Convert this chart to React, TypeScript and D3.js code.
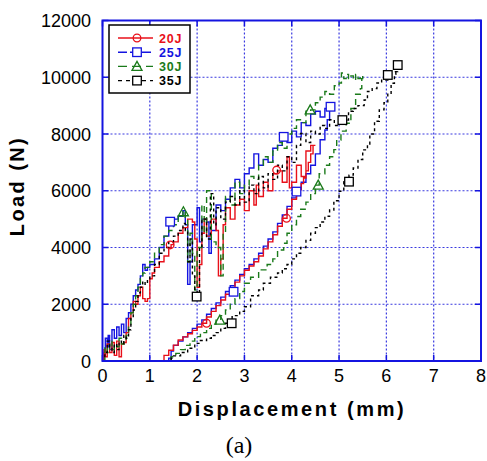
import React from "react";
import * as d3 from "d3";

type P = [number, number];

const xTicks = [0, 1, 2, 3, 4, 5, 6, 7, 8];
const yTicks = [0, 2000, 4000, 6000, 8000, 10000, 12000];
const seriesNames = ["20J", "25J", "30J", "35J"];

const red: P[] = [
  [0, 0], [0.03, 400], [0.06, 150], [0.1, 600], [0.15, 300], [0.2, 650], [0.25, 200], [0.3, 700], [0.35, 150],
  [0.4, 600], [0.45, 650], [0.5, 1000], [0.55, 1500], [0.6, 1700], [0.65, 2100], [0.7, 2000], [0.75, 2300],
  [0.8, 2600], [0.85, 2200], [0.9, 2100], [0.95, 2200], [1.0, 2900], [1.05, 3100], [1.1, 3300], [1.2, 3500],
  [1.3, 3700], [1.4, 4000], [1.45, 4100], [1.5, 4200], [1.6, 4500], [1.7, 4700], [1.8, 5000], [1.9, 4900],
  [1.95, 4300], [2.0, 2600], [2.05, 3400], [2.1, 4500], [2.15, 5000], [2.2, 4400], [2.3, 5000], [2.4, 4600],
  [2.45, 3000], [2.5, 3600], [2.55, 4800], [2.6, 5400], [2.7, 5000], [2.8, 5500], [2.9, 5700], [3.0, 5300],
  [3.1, 6000], [3.2, 5500], [3.25, 6200], [3.3, 5800], [3.4, 6300], [3.5, 6000], [3.6, 6600], [3.7, 6700],
  [3.8, 6300], [3.9, 7200], [3.95, 6100], [4.0, 6300], [4.1, 6900], [4.2, 6500], [4.3, 7400], [4.4, 7600],
  [4.5, 7600],
  [4.45, 7300], [4.4, 7000], [4.35, 6700], [4.3, 6450], [4.25, 6250], [4.2, 6030], [4.1, 5700], [4.0, 5350],
  [3.9, 5030], [3.8, 4750], [3.7, 4450], [3.6, 4200], [3.5, 3950], [3.4, 3700], [3.3, 3500], [3.2, 3350],
  [3.1, 3200], [3.0, 3000], [2.9, 2780], [2.8, 2550], [2.7, 2350], [2.6, 2150], [2.5, 1950], [2.4, 1750],
  [2.3, 1550], [2.2, 1330], [2.1, 1200], [2.0, 1080], [1.9, 960], [1.8, 850], [1.7, 740], [1.6, 560],
  [1.5, 380], [1.4, 200], [1.3, 0], [1.22, 0],
];

const blue: P[] = [
  [0, 0], [0.03, 300], [0.06, 800], [0.1, 500], [0.12, 900], [0.15, 400], [0.2, 1100], [0.25, 800], [0.3, 1200],
  [0.35, 900], [0.4, 1300], [0.45, 1000], [0.5, 1500], [0.55, 1700], [0.6, 2000], [0.65, 2300], [0.7, 2500],
  [0.75, 2700], [0.8, 3000], [0.85, 3400], [0.9, 3200], [0.95, 3300], [1.0, 3400], [1.1, 3600], [1.2, 4000],
  [1.3, 4400], [1.4, 4900], [1.5, 5000], [1.6, 5100], [1.7, 5300], [1.75, 4800], [1.8, 2700], [1.85, 3500],
  [1.9, 4800], [2.0, 5400], [2.05, 4200], [2.1, 5000], [2.2, 4900], [2.25, 3800], [2.3, 4600], [2.4, 5500],
  [2.5, 5300], [2.6, 5700], [2.7, 6100], [2.8, 6400], [2.9, 6100], [3.0, 6600], [3.1, 6800], [3.2, 7300],
  [3.3, 6900], [3.4, 7100], [3.5, 7000], [3.6, 7500], [3.7, 7600], [3.8, 7900], [3.9, 7700], [4.0, 8100],
  [4.1, 7900], [4.2, 8400], [4.3, 8300], [4.4, 8700], [4.5, 8800], [4.6, 8600], [4.7, 8900], [4.8, 9000],
  [4.85, 9000],
  [4.8, 8500], [4.75, 8140], [4.7, 7800], [4.6, 7300], [4.5, 6900], [4.4, 6600], [4.3, 6300], [4.2, 6050],
  [4.1, 5750], [4.0, 5450], [3.9, 5150], [3.8, 4850], [3.7, 4550], [3.6, 4300], [3.5, 4050], [3.4, 3800],
  [3.3, 3600], [3.2, 3400], [3.1, 3250], [3.0, 3050], [2.9, 2850], [2.8, 2650], [2.7, 2450], [2.6, 2250],
  [2.5, 2050], [2.4, 1850], [2.3, 1650], [2.2, 1450], [2.1, 1300], [2.0, 1150], [1.9, 1000], [1.8, 850],
  [1.7, 700], [1.6, 550], [1.5, 350], [1.45, 100], [1.4, 0],
];

const green: P[] = [
  [0, 0], [0.05, 500], [0.1, 300], [0.15, 700], [0.2, 400], [0.25, 600], [0.3, 500], [0.35, 800], [0.4, 600],
  [0.45, 700], [0.5, 900], [0.55, 1300], [0.6, 1700], [0.65, 2000], [0.7, 2300], [0.75, 2600], [0.8, 2900],
  [0.85, 3100], [0.9, 3300], [1.0, 3500], [1.1, 3800], [1.2, 4100], [1.3, 4400], [1.4, 4600], [1.5, 4800],
  [1.6, 5100], [1.7, 5300], [1.75, 5000], [1.8, 3500], [1.85, 4500], [1.9, 3800], [1.95, 2500], [2.0, 4000],
  [2.1, 5500], [2.15, 4500], [2.2, 6000], [2.3, 4200], [2.4, 4000], [2.5, 3000], [2.55, 4500], [2.6, 5800],
  [2.7, 5500], [2.8, 6300], [2.9, 5900], [3.0, 6200], [3.1, 6500], [3.2, 6400], [3.3, 6900], [3.4, 7200],
  [3.5, 7000], [3.6, 7400], [3.7, 7700], [3.8, 7500], [3.9, 8000], [4.0, 8200], [4.1, 8500], [4.2, 8400],
  [4.3, 8800], [4.4, 8850], [4.5, 9100], [4.6, 9300], [4.7, 9500], [4.8, 9400], [4.9, 9700], [5.0, 9800],
  [5.05, 10150], [5.1, 9950], [5.15, 10100], [5.2, 9950], [5.25, 10050], [5.3, 9900], [5.35, 10100],
  [5.4, 9950], [5.45, 10050], [5.5, 9950],
  [5.48, 9600], [5.45, 9400], [5.35, 8900], [5.25, 8380], [5.15, 8100], [5.04, 7790], [4.95, 7450],
  [4.89, 7200], [4.8, 6900], [4.7, 6600], [4.58, 6200], [4.5, 5900], [4.4, 5600], [4.3, 5350], [4.19, 5090],
  [4.1, 4800], [4.0, 4500], [3.9, 4150], [3.83, 3910], [3.7, 3600], [3.6, 3400], [3.48, 3210], [3.3, 2950],
  [3.13, 2740], [3.0, 2450], [2.9, 2200], [2.8, 2000], [2.7, 1800], [2.6, 1600], [2.5, 1440], [2.4, 1300],
  [2.3, 1150], [2.2, 1000], [2.07, 860], [1.95, 700], [1.85, 550], [1.75, 400], [1.65, 270], [1.55, 150],
  [1.45, 0],
];

const black: P[] = [
  [0, 0], [0.05, 300], [0.1, 700], [0.15, 500], [0.2, 300], [0.25, 600], [0.3, 400], [0.35, 700], [0.4, 600],
  [0.45, 900], [0.5, 800], [0.55, 1100], [0.6, 1500], [0.65, 1800], [0.7, 2100], [0.75, 2400], [0.8, 2600],
  [0.85, 2800], [0.9, 2700], [0.95, 2900], [1.0, 3000], [1.1, 3400], [1.2, 3800], [1.3, 4000], [1.4, 4200],
  [1.5, 4400], [1.6, 4600], [1.7, 4850], [1.75, 4600], [1.8, 3500], [1.85, 4300], [1.9, 3000], [1.95, 2500],
  [2.0, 2270], [2.05, 4000], [2.1, 5000], [2.2, 4300], [2.28, 5900], [2.35, 4800], [2.4, 5400], [2.5, 5000],
  [2.6, 5600], [2.7, 5800], [2.8, 5500], [2.9, 6000], [3.0, 5600], [3.1, 6200], [3.2, 5900], [3.3, 6500],
  [3.4, 6100], [3.5, 6600], [3.6, 6400], [3.7, 6900], [3.8, 6700], [3.9, 7200], [4.0, 7000], [4.1, 7600],
  [4.19, 8020], [4.3, 7700], [4.4, 8100], [4.5, 8000], [4.6, 8300], [4.7, 8200], [4.8, 8500], [4.9, 8300],
  [5.0, 8600], [5.07, 8490], [5.2, 8800], [5.3, 8900], [5.4, 9000], [5.53, 9200], [5.6, 9500], [5.7, 9600],
  [5.8, 9800], [5.9, 9900], [6.03, 10080], [6.1, 10200], [6.24, 10430],
  [6.2, 10100], [6.17, 9790], [6.1, 9400], [6.03, 9100], [5.95, 8850], [5.85, 8450], [5.75, 8000],
  [5.65, 7650], [5.6, 7440], [5.5, 7100], [5.4, 6800], [5.3, 6550], [5.21, 6320], [5.1, 5980], [5.0, 5650],
  [4.89, 5320], [4.8, 5100], [4.7, 4900], [4.6, 4700], [4.5, 4500], [4.4, 4250], [4.3, 4000], [4.19, 3800],
  [4.1, 3600], [4.0, 3400], [3.9, 3250], [3.8, 3100], [3.7, 2950], [3.55, 2740], [3.4, 2500], [3.3, 2300],
  [3.13, 1910], [3.0, 1750], [2.9, 1600], [2.74, 1330], [2.6, 1150], [2.5, 1000], [2.4, 900], [2.3, 800],
  [2.2, 720], [2.07, 620], [1.95, 450], [1.8, 300], [1.65, 180], [1.5, 95], [1.45, 0],
];

const redMarks: P[] = [[1.43, 4090], [3.68, 6730], [3.89, 5030], [2.2, 1330]];
const blueMarks: P[] = [[1.43, 4910], [3.83, 7900], [4.82, 8960], [4.1, 5970], [2.77, 2440]];
const greenMarks: P[] = [[1.71, 5260], [4.39, 8850], [4.56, 6200], [2.48, 1440]];
const blackMarks: P[] = [[1.99, 2270], [5.07, 8490], [6.03, 10080], [6.24, 10430], [5.21, 6320], [2.73, 1330]];

const W = 487, H = 461;
const L = 102.5, R = 481, T = 20.5, B = 361;

const x = d3.scaleLinear().domain([0, 8]).range([L, R]);
const y = d3.scaleLinear().domain([0, 12000]).range([B, T]);

const RED = "#e8101a", BLUE = "#1414e0", GREEN = "#1a7a1a", BLACK = "#000";
const GRID = "#3a3ae0";

const line = d3.line<P>().x(d => x(d[0])).y(d => y(d[1])).curve(d3.curveStepAfter);

function Marker({ kind, cx, cy, color }: { kind: string; cx: number; cy: number; color: string }) {
  const s = 4.3;
  if (kind === "circle") return <circle cx={cx} cy={cy} r={3.8} fill="none" stroke={color} strokeWidth={1.3} />;
  if (kind === "square") return <rect x={cx - s} y={cy - s} width={2 * s} height={2 * s} fill="white" stroke={color} strokeWidth={1.3} />;
  const pts = [[cx, cy - 5], [cx - 5, cy + 4], [cx + 5, cy + 4]].map(p => p.join(",")).join(" ");
  return <polygon points={pts} fill="none" stroke={color} strokeWidth={1.3} />;
}

const series = [
  { name: seriesNames[1], data: blue, marks: blueMarks, color: BLUE, dash: undefined as string | undefined, kind: "square" },
  { name: seriesNames[0], data: red, marks: redMarks, color: RED, dash: undefined as string | undefined, kind: "circle" },
  { name: seriesNames[2], data: green, marks: greenMarks, color: GREEN, dash: "6,4", kind: "triangle" },
  { name: seriesNames[3], data: black, marks: blackMarks, color: BLACK, dash: "3,3", kind: "square" },
];

const legendRows = [
  { name: seriesNames[0], color: RED, dash: undefined as string | undefined, kind: "circle" },
  { name: seriesNames[1], color: BLUE, dash: "9,3", kind: "square" },
  { name: seriesNames[2], color: GREEN, dash: "9,5", kind: "triangle" },
  { name: seriesNames[3], color: BLACK, dash: "4,4", kind: "square" },
];

export default function App() {
  return (
    <svg width={W} height={H} style={{ position: "absolute", left: 0, top: 0, background: "white" }}>
      <rect x={0} y={0} width={W} height={H} fill="white" />
      {xTicks.slice(1, -1).map(t => (
        <line key={"gx" + t} x1={x(t)} x2={x(t)} y1={T} y2={B} stroke={GRID} strokeWidth={1.2} strokeDasharray="2,2" />
      ))}
      {yTicks.slice(1, -1).map(t => (
        <line key={"gy" + t} x1={L} x2={R} y1={y(t)} y2={y(t)} stroke={GRID} strokeWidth={1.2} strokeDasharray="2,2" />
      ))}
      {xTicks.map(t => (
        <g key={"tx" + t}>
          <line x1={x(t)} x2={x(t)} y1={B} y2={B - 6} stroke={BLUE} strokeWidth={1.5} />
          <line x1={x(t)} x2={x(t)} y1={T} y2={T + 6} stroke={BLUE} strokeWidth={1.5} />
        </g>
      ))}
      {yTicks.map(t => (
        <g key={"ty" + t}>
          <line x1={L} x2={L + 6} y1={y(t)} y2={y(t)} stroke={BLUE} strokeWidth={1.5} />
          <line x1={R} x2={R - 6} y1={y(t)} y2={y(t)} stroke={BLUE} strokeWidth={1.5} />
        </g>
      ))}
      {series.map(s => (
        <path key={s.name} d={line(s.data) || ""} fill="none" stroke={s.color} strokeWidth={1.4} strokeDasharray={s.dash} />
      ))}
      {series.map(s => s.marks.map((m, i) => (
        <Marker key={s.name + i} kind={s.kind} cx={x(m[0])} cy={y(m[1])} color={s.color} />
      )))}
      <rect x={L} y={T} width={R - L} height={B - T} fill="none" stroke={BLUE} strokeWidth={2} />
      {xTicks.map(t => (
        <text key={"lx" + t} x={x(t)} y={382} textAnchor="middle" fontFamily="Liberation Sans, Arial, sans-serif" fontSize={18}>{t}</text>
      ))}
      {yTicks.map(t => (
        <text key={"ly" + t} x={91} y={y(t) + 6.5} textAnchor="end" fontFamily="Liberation Sans, Arial, sans-serif" fontSize={18}>{t}</text>
      ))}
      <text x={292} y={416} textAnchor="middle" fontFamily="Liberation Sans, Arial, sans-serif" fontSize={20} fontWeight="bold" letterSpacing={2.6}>Displacement (mm)</text>
      <text transform={`translate(24,186) rotate(-90)`} textAnchor="middle" fontFamily="Liberation Sans, Arial, sans-serif" fontSize={20} fontWeight="bold" letterSpacing={2.4}>Load (N)</text>
      <text x={239} y={453} textAnchor="middle" fontFamily="Liberation Serif, Times New Roman, serif" fontSize={24}>(a)</text>
      <rect x={109} y={25} width={81} height={68} fill="white" stroke="#000" strokeWidth={1.5} />
      {legendRows.map((r, i) => {
        const cy = 38 + i * 14.2;
        return (
          <g key={"lg" + i}>
            <line x1={118} x2={153} y1={cy} y2={cy} stroke={r.color} strokeWidth={1.4} strokeDasharray={r.dash} />
            <Marker kind={r.kind} cx={137} cy={cy} color={r.color} />
            <text x={159} y={cy + 4.5} fontFamily="Liberation Sans, Arial, sans-serif" fontSize={12.5} fontWeight="bold" letterSpacing={0.8} fill={r.color}>{r.name}</text>
          </g>
        );
      })}
    </svg>
  );
}
